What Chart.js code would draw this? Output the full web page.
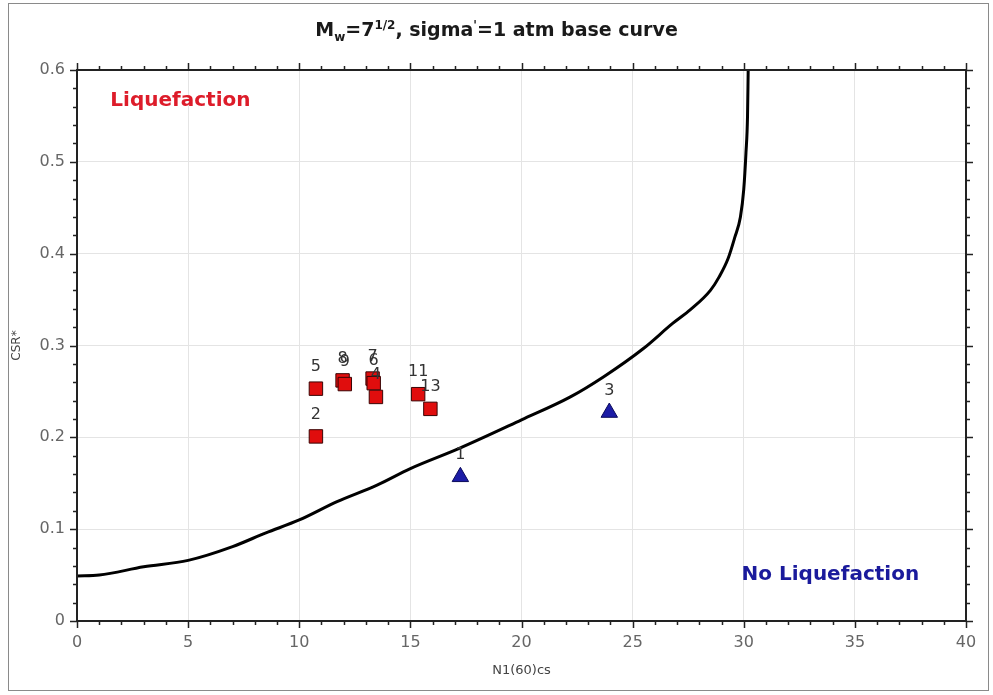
<!DOCTYPE html>
<html>
<head>
<meta charset="utf-8">
<script src="https://cdn.jsdelivr.net/npm/chart.js@4.4.0/dist/chart.umd.min.js"></script>
<style>
html, body { margin: 0; padding: 0; background: #fff; }
#wrap { position: relative; width: 993px; height: 695px; overflow: hidden; }
#frame { position: absolute; left: 8px; top: 3px; width: 981px; height: 688px; border: 1px solid #8a8a8a; box-sizing: border-box; }
#title { position: absolute; left: 0; top: 18px; width: 993px; text-align: center; font: bold 19px "DejaVu Sans", Verdana, sans-serif; color: #1a1a1a; }
#title sub, #title sup { font-size: 12px; }
canvas { position: absolute; left: 0; top: 0; }
</style>
</head>
<body>
<div id="wrap">
  <div id="frame"></div>
  <canvas id="csrChart" width="993" height="695"></canvas>
  <div id="title">M<sub>w</sub>=7<sup>1/2</sup>, sigma<sup>'</sup>=1 atm base curve</div>
</div>
<script>
// base curve
const curveN   = [0, 1, 3, 5, 7, 8.5, 10, 11.7, 13.5, 15, 17.2, 20, 22.2, 23.7, 25.5, 26.8, 27.6, 28.5, 28.9, 29.3, 29.6, 29.85, 30.0, 30.1, 30.17, 30.2];
const curveCSR = [0.049, 0.050, 0.059, 0.066, 0.081, 0.096, 0.110, 0.130, 0.148, 0.166, 0.188, 0.219, 0.244, 0.266, 0.297, 0.324, 0.339, 0.360, 0.375, 0.395, 0.418, 0.440, 0.470, 0.510, 0.550, 0.600];

// liquefied points (red squares)
const liqLabels = ['2', '5', '8', '9', '7', '6', '4', '11', '13'];
const liqN      = [10.75, 10.75, 11.95, 12.05, 13.3, 13.35, 13.45, 15.35, 15.9];
const liqCSR    = [0.201, 0.253, 0.262, 0.258, 0.264, 0.259, 0.244, 0.247, 0.231];

// non-liquefied points (blue triangles)
const noLiqLabels = ['1', '3'];
const noLiqN      = [17.25, 23.95];
const noLiqCSR    = [0.157, 0.227];

const xTickLabels = ['0', '5', '10', '15', '20', '25', '30', '35', '40'];
const yTickLabels = ['0', '0.1', '0.2', '0.3', '0.4', '0.5', '0.6'];

const FONT = '"DejaVu Sans", Verdana, sans-serif';

const zones = [
    { text: 'Liquefaction', x: 1.5, y: 0.567, color: '#dd1c2a' },
    { text: 'No Liquefaction', x: 29.9, y: 0.050, color: '#1a1a9c' }
];

// frame, outward ticks on all four sides, zone texts and point numbers
const decorPlugin = {
    id: 'decor',
    afterDatasetsDraw(chart) {
        const ctx = chart.ctx;
        const a = chart.chartArea;
        const xs = chart.scales.x;
        const ys = chart.scales.y;
        ctx.save();

        ctx.strokeStyle = '#222';
        ctx.lineWidth = 2;
        ctx.strokeRect(a.left, a.top, a.right - a.left, a.bottom - a.top);

        ctx.lineWidth = 1.5;
        ctx.beginPath();
        for (let i = 0; i <= 40; i++) {
            const px = Math.round(xs.getPixelForValue(i)) + 0.5;
            const len = i % 5 === 0 ? 7 : 4;
            ctx.moveTo(px, a.bottom); ctx.lineTo(px, a.bottom + len);
            ctx.moveTo(px, a.top); ctx.lineTo(px, a.top - len);
        }
        for (let i = 0; i <= 30; i++) {
            const py = Math.round(ys.getPixelForValue(i * 0.02)) + 0.5;
            const len = i % 5 === 0 ? 7 : 4;
            ctx.moveTo(a.left, py); ctx.lineTo(a.left - len, py);
            ctx.moveTo(a.right, py); ctx.lineTo(a.right + len, py);
        }
        ctx.stroke();

        ctx.font = 'bold 20px ' + FONT;
        ctx.textBaseline = 'middle';
        ctx.textAlign = 'left';
        zones.forEach(z => {
            ctx.fillStyle = z.color;
            ctx.fillText(z.text, xs.getPixelForValue(z.x), ys.getPixelForValue(z.y));
        });

        ctx.font = '16px ' + FONT;
        ctx.textAlign = 'center';
        ctx.fillStyle = '#333';
        [1, 2].forEach(di => {
            const meta = chart.getDatasetMeta(di);
            const labels = chart.data.datasets[di].pointLabels;
            meta.data.forEach((el, i) => {
                ctx.fillText(labels[i], el.x, el.y - 22);
            });
        });
        ctx.restore();
    }
};

const ctx = document.getElementById('csrChart').getContext('2d');
new Chart(ctx, {
    type: 'scatter',
    data: {
        datasets: [{
            label: 'Base curve',
            data: curveN.map((n, i) => ({ x: n, y: curveCSR[i] })),
            showLine: true,
            borderColor: '#000',
            borderWidth: 3,
            pointRadius: 0,
            cubicInterpolationMode: 'monotone'
        }, {
            label: 'Liquefaction',
            data: liqN.map((n, i) => ({ x: n, y: liqCSR[i] })),
            pointLabels: liqLabels,
            pointStyle: 'rect',
            pointRadius: 9.5,
            backgroundColor: '#e00d0d',
            borderColor: '#3a0505',
            borderWidth: 1
        }, {
            label: 'No Liquefaction',
            data: noLiqN.map((n, i) => ({ x: n, y: noLiqCSR[i] })),
            pointLabels: noLiqLabels,
            pointStyle: 'triangle',
            pointRadius: 9.5,
            backgroundColor: '#1c1ca6',
            borderColor: '#0b0b5a',
            borderWidth: 1
        }]
    },
    options: {
        responsive: false,
        animation: false,
        layout: { padding: { left: 6, top: 70, right: 27, bottom: 13 } },
        plugins: {
            legend: { display: false },
            tooltip: { enabled: false }
        },
        scales: {
            x: {
                type: 'linear',
                min: 0,
                max: 40,
                afterFit: scale => { scale.height = 61; },
                ticks: {
                    stepSize: 5,
                    padding: 12,
                    color: '#666',
                    font: { family: FONT, size: 16 },
                    callback: (v) => xTickLabels[Math.round(v / 5)]
                },
                grid: { color: '#e4e4e4', drawTicks: false },
                border: { display: false },
                title: { display: true, text: 'N1(60)cs', color: '#444', font: { family: FONT, size: 13 } }
            },
            y: {
                type: 'linear',
                min: 0,
                max: 0.6,
                afterFit: scale => { scale.width = 71; },
                ticks: {
                    stepSize: 0.1,
                    padding: 12,
                    color: '#666',
                    font: { family: FONT, size: 16 },
                    callback: (v) => yTickLabels[Math.round(v * 10)]
                },
                grid: { color: '#e4e4e4', drawTicks: false },
                border: { display: false },
                title: { display: true, text: 'CSR*', color: '#444', font: { family: FONT, size: 12 } }
            }
        }
    },
    plugins: [decorPlugin]
});
</script>
</body>
</html>
